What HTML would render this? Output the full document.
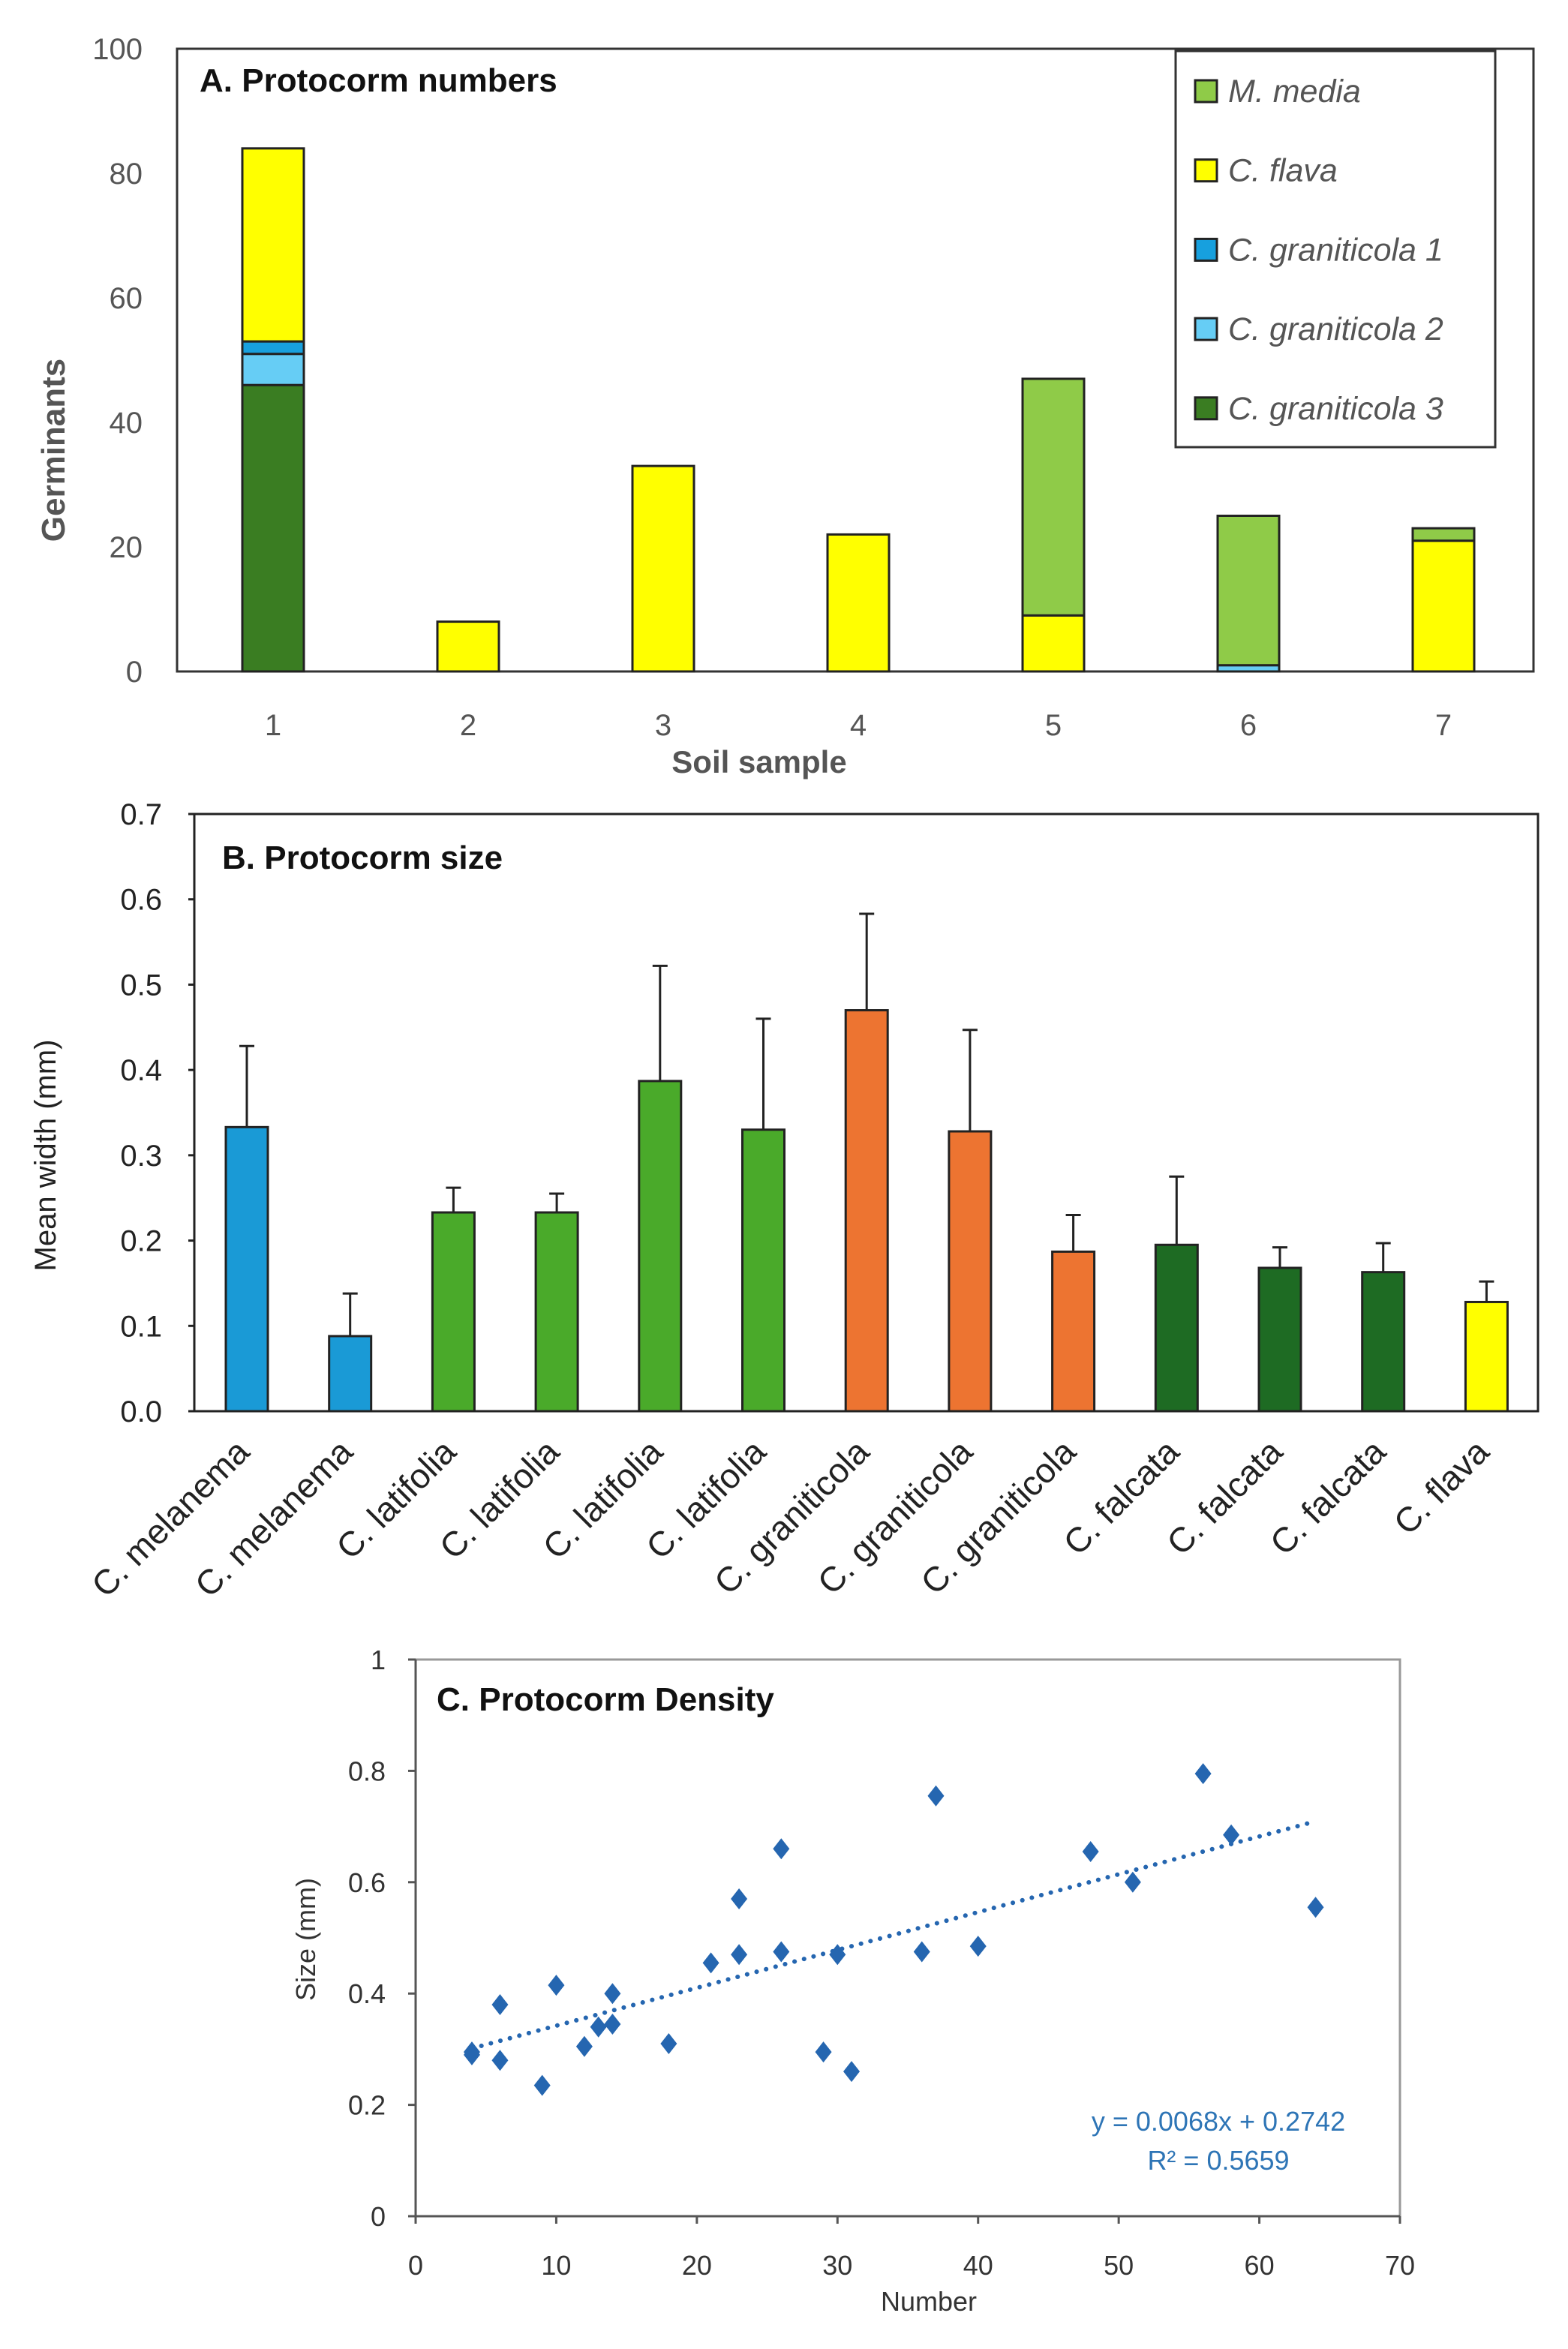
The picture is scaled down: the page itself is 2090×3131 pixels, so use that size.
<!DOCTYPE html>
<html><head><meta charset="utf-8"><style>
html,body{margin:0;padding:0;background:#fff;}
svg{display:block;}
text{font-family:"Liberation Sans",sans-serif;}
</style></head><body>
<svg id="s" width="2090" height="3131" viewBox="0 0 2090 3131" xmlns="http://www.w3.org/2000/svg"></svg>
<script>
// Panel A data
const aSamples = ['1','2','3','4','5','6','7'];
const aGran3 = [46,0,0,0,0,0,0];
const aGran2 = [5,0,0,0,0,1,0];
const aGran1 = [2,0,0,0,0,0,0];
const aFlava = [31,8,33,22,9,0,21];
const aMedia = [0,0,0,0,38,24,2];
const aTicks = [0,20,40,60,80,100];
// Panel B data
const bLabels = ['C. melanema','C. melanema','C. latifolia','C. latifolia','C. latifolia','C. latifolia','C. graniticola','C. graniticola','C. graniticola','C. falcata','C. falcata','C. falcata','C. flava'];
const bMeans = [0.333,0.088,0.233,0.233,0.387,0.330,0.470,0.328,0.187,0.195,0.168,0.163,0.128];
const bErr = [0.095,0.050,0.029,0.022,0.135,0.130,0.113,0.119,0.043,0.080,0.024,0.034,0.024];
const bGroup = ['mel','mel','lat','lat','lat','lat','gra','gra','gra','fal','fal','fal','fla'];
const bTicks = [0,0.1,0.2,0.3,0.4,0.5,0.6,0.7];
// Panel C data
const cX = [4,4,6,6,9,10,12,13,14,14,18,21,23,23,26,26,29,30,31,36,37,40,48,51,56,58,64];
const cY = [0.290,0.295,0.380,0.280,0.235,0.415,0.305,0.340,0.400,0.345,0.310,0.455,0.570,0.470,0.660,0.475,0.295,0.470,0.260,0.475,0.755,0.485,0.655,0.600,0.795,0.685,0.555];
const cSlope = 0.0068, cIntercept = 0.2742;
const cXTicks = [0,10,20,30,40,50,60,70];
const cYTicks = [0,0.2,0.4,0.6,0.8,1];

const svg = document.getElementById('s');
const NS = 'http://www.w3.org/2000/svg';
function el(tag, attrs, txt){
  const e = document.createElementNS(NS, tag);
  for (const k in attrs) e.setAttribute(k, attrs[k]);
  if (txt !== undefined) e.textContent = txt;
  svg.appendChild(e);
  return e;
}

// ---------- Panel A ----------
const aL=236, aR=2044, aT=65, aB=895;
const ay = v => aB - v*(aB-aT)/100;
const ax = i => 364 + 260*i;
let f = el('rect',{x:aL,y:aT,width:aR-aL,height:aB-aT,fill:'none',stroke:'#333','stroke-width':3});
 
aTicks.forEach(t=>{
  const e = el('text',{x:190,y:ay(t)+14,'text-anchor':'end','font-size':40,fill:'#555'},String(t));
   
});
aSamples.forEach((s,i)=>{
  const e = el('text',{x:ax(i),y:980,'text-anchor':'middle','font-size':40,fill:'#555'},s);
   
});
let t = el('text',{x:1012,y:1030,'text-anchor':'middle','font-size':42,'font-weight':'bold',fill:'#555'},'Soil sample');
 
t = el('text',{x:0,y:0,'text-anchor':'middle','font-size':44,'font-weight':'bold',fill:'#555',transform:'translate(86,600) rotate(-90)'},'Germinants');
 
t = el('text',{x:266,y:122,'font-size':44,'font-weight':'bold',fill:'#111'},'A. Protocorm numbers');
 
const aSeries = [[aGran3,'#3a7d22','gran3'],[aGran2,'#66cdf5','gran2'],[aGran1,'#17a0de','gran1'],[aFlava,'#ffff00','flava'],[aMedia,'#8fcb48','media']];
aSamples.forEach((s,i)=>{
  let base=0;
  aSeries.forEach(([arr,col,nm])=>{
    const v=arr[i]; if(!v) return;
    const r = el('rect',{x:ax(i)-41,y:ay(base+v),width:82,height:ay(base)-ay(base+v),fill:col,stroke:'#222','stroke-width':3});
     
    base+=v;
  });
});
f = el('rect',{x:1567,y:68,width:426,height:528,fill:'#fff',stroke:'#333','stroke-width':3});
 
const legItems=[['M. media','#8fcb48'],['C. flava','#ffff00'],['C. graniticola 1','#17a0de'],['C. graniticola 2','#66cdf5'],['C. graniticola 3','#3a7d22']];
legItems.forEach(([lab,col],k)=>{
  const cy=121+105.7*k;
  const r=el('rect',{x:1593,y:cy-14,width:29,height:29,fill:col,stroke:'#222','stroke-width':3});
   
  const tx=el('text',{x:1637,y:cy+15,'font-size':43,'font-style':'italic',fill:'#555'},lab);
   
});

// ---------- Panel B ----------
const bL=259, bR=2050, bT=1085, bB=1881;
const by = v => bB - v*(bB-bT)/0.7;
const bx = i => 329 + 137.7*i;
const bCol = {mel:'#1a9ad6',lat:'#4aaa2a',gra:'#ed7431',fal:'#1e6b23',fla:'#ffff00'};
f = el('rect',{x:bL,y:bT,width:bR-bL,height:bB-bT,fill:'none',stroke:'#222','stroke-width':3});
 
bTicks.forEach(v=>{
  const e=el('text',{x:216,y:by(v)+14,'text-anchor':'end','font-size':40,fill:'#222'},v.toFixed(1));
   
  const l=el('line',{x1:bL-8,x2:bL,y1:by(v),y2:by(v),stroke:'#222','stroke-width':3});
   
});
t = el('text',{x:0,y:0,'text-anchor':'middle','font-size':40,fill:'#222',transform:'translate(74,1540) rotate(-90)'},'Mean width (mm)');
 
t = el('text',{x:296,y:1158,'font-size':44,'font-weight':'bold',fill:'#111'},'B. Protocorm size');
 
bMeans.forEach((m,i)=>{
  const cx=bx(i);
  const top=by(m+bErr[i]);
  const l=el('line',{x1:cx,x2:cx,y1:by(m),y2:top,stroke:'#222','stroke-width':3});
   
  const c=el('line',{x1:cx-10,x2:cx+10,y1:top,y2:top,stroke:'#222','stroke-width':3});
   
  const r=el('rect',{x:cx-28,y:by(m),width:56,height:by(0)-by(m),fill:bCol[bGroup[i]],stroke:'#222','stroke-width':3});
   
  const tx=el('text',{x:0,y:0,'text-anchor':'end','font-size':46,fill:'#222',transform:'translate('+(cx+6)+',1938) rotate(-45)'},bLabels[i]);
   
});

// ---------- Panel C ----------
const cL=554, cR=1866, cT=2212, cB=2954;
const cx_ = v => cL + v*(cR-cL)/70;
const cy_ = v => cB - v*(cB-cT)/1;
f = el('rect',{x:cL,y:cT,width:cR-cL,height:cB-cT,fill:'none',stroke:'#999','stroke-width':3});
 
const axl=el('line',{x1:cL,x2:cL,y1:cT,y2:cB,stroke:'#555','stroke-width':3});
 
const axb=el('line',{x1:cL,x2:cR,y1:cB,y2:cB,stroke:'#555','stroke-width':3});
 
cYTicks.forEach(v=>{
  const e=el('text',{x:514,y:cy_(v)+13,'text-anchor':'end','font-size':36,fill:'#333'},String(v));
   
  const l=el('line',{x1:cL-10,x2:cL,y1:cy_(v),y2:cy_(v),stroke:'#555','stroke-width':3});
   
});
cXTicks.forEach(v=>{
  const e=el('text',{x:cx_(v),y:3032,'text-anchor':'middle','font-size':36,fill:'#333'},String(v));
   
  const l=el('line',{x1:cx_(v),x2:cx_(v),y1:cB,y2:cB+10,stroke:'#555','stroke-width':3});
   
});
t = el('text',{x:1238,y:3080,'text-anchor':'middle','font-size':36,fill:'#333'},'Number');
 
t = el('text',{x:0,y:0,'text-anchor':'middle','font-size':36,fill:'#333',transform:'translate(420,2585) rotate(-90)'},'Size (mm)');
 
t = el('text',{x:582,y:2280,'font-size':44,'font-weight':'bold',fill:'#111'},'C. Protocorm Density');
 
const x0=Math.min(...cX), x1=Math.max(...cX);
const tl=el('line',{x1:cx_(x0),y1:cy_(cSlope*x0+cIntercept),x2:cx_(x1),y2:cy_(cSlope*x1+cIntercept),stroke:'#2566b0','stroke-width':6,'stroke-dasharray':'0.1 13','stroke-linecap':'round'});
 
cX.forEach((x,i)=>{
  const px=cx_(x), py=cy_(cY[i]);
  const p=el('polygon',{points:(px)+','+(py-14)+' '+(px+11)+','+py+' '+px+','+(py+14)+' '+(px-11)+','+py,fill:'#2566b0'});
   
});
t = el('text',{x:1624,y:2840,'text-anchor':'middle','font-size':36,fill:'#2e75b6'},'y = '+cSlope.toFixed(4)+'x + '+cIntercept.toFixed(4));
 
t = el('text',{x:1624,y:2892,'text-anchor':'middle','font-size':36,fill:'#2e75b6'},'R² = 0.5659');
 
</script>
</body></html>
